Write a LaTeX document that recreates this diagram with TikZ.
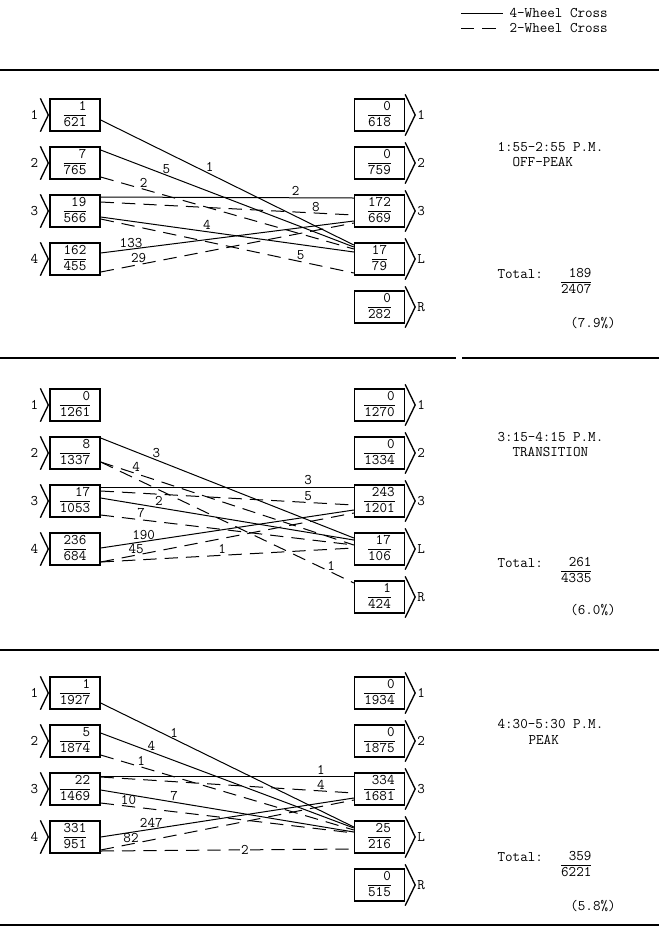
\documentclass[tikz,border=0pt]{standalone}
\usepackage{tikz}
\usetikzlibrary{calc}
\newcommand{\tfont}{\fontsize{11}{13}\selectfont\ttfamily}
\newcommand{\cnt}[2]{\renewcommand{\arraystretch}{0.9}%
  \begin{tabular}{@{}r@{}}#1\\\hline #2\end{tabular}}

\begin{document}
\begin{tikzpicture}[x=0.75pt, y=-0.75pt,
    every node/.style={font=\tfont, inner sep=1pt},
    abox/.style={draw, line width=1pt, minimum width=37.5pt,
                 minimum height=24pt, inner sep=0pt},
    chev/.style={line width=1pt},
    fourw/.style={line width=0.75pt},
    twow/.style={line width=0.75pt, dash pattern=on 10pt off 6pt},
    num/.style={inner sep=1pt},
    sep/.style={line width=2pt}
  ]
  \useasboundingbox (0,0) rectangle (659,929);

  % legend
  \node[anchor=west] (leg4) at (508,13) {4-Wheel Cross};
  \node[anchor=west] (leg2) at (508,28) {2-Wheel Cross};
  \coordinate (l4s) at (461,13);
  \coordinate (l2s) at (461,28);
  \draw[fourw] (l4s) -- ($(leg4.west)+(-5,0)$);
  \draw[twow]  (l2s) -- ($(leg2.west)+(-8,0)$);

  % separating rules
  \draw[sep] (0,70) -- (659,70);
  \draw[sep] (0,358) -- (456,358);
  \draw[sep] (462,358) -- (659,358);
  \draw[sep] (0,650) -- (659,650);
  \draw[sep] (0,925) -- (659,925);

  % approach boxes
  \foreach \p/\yc/\lst in {1/115/{1/1/621,2/7/765,3/19/566,4/162/455},
                           2/405/{1/0/1261,2/8/1337,3/17/1053,4/236/684},
                           3/693/{1/1/1927,2/5/1874,3/22/1469,4/331/951}} {
    \foreach \i/\n/\d [count=\k from 0] in \lst {
      \node[abox] (a\p\i) at (75,{\yc+48*\k}) {\cnt{\n}{\d}};
      \draw[chev] ($(a\p\i.north west)+(-9,0)$) -- ($(a\p\i.west)+(-1,0)$)
                  -- ($(a\p\i.south west)+(-9,0)$);
      \node (na\p\i) at ($(a\p\i.west)+(-15,0)$) {\i};
    }
  }

  % exit boxes
  \foreach \p/\yc/\lst in {1/115/{1/0/618,2/0/759,3/172/669,L/17/79,R/0/282},
                           2/405/{1/0/1270,2/0/1334,3/243/1201,L/17/106,R/1/424},
                           3/693/{1/0/1934,2/0/1875,3/334/1681,L/25/216,R/0/515}} {
    \foreach \i/\n/\d [count=\k from 0] in \lst {
      \node[abox] (b\p\i) at (379.5,{\yc+48*\k}) {\cnt{\n}{\d}};
      \draw[chev] ($(b\p\i.north east)+(0,-4)$) -- ($(b\p\i.east)+(10,0)$)
                  -- ($(b\p\i.south east)+(0,4)$);
      \node (nb\p\i) at ($(b\p\i.east)+(16,0)$) {\i};
    }
  }

  % 1:55-2:55 off-peak
  \draw[fourw] ($(a11.east)+(0,5)$)   -- node[num, above, pos=.43] {1}   ($(b1L.west)+(0,-14)$);
  \draw[fourw] ($(a12.east)+(0,-13)$) -- node[num, above, pos=.26] {5}   ($(b1L.west)+(0,-12)$);
  \draw[twow]  ($(a12.east)+(0,14)$)  -- node[num, above, pos=.17] {2}   ($(b1L.west)+(0,-10)$);
  \draw[fourw] ($(a13.east)+(0,-14)$) -- node[num, above, pos=.77] {2}   ($(b13.west)+(0,-13)$);
  \draw[twow]  ($(a13.east)+(0,-9)$)  -- node[num, above, pos=.85] {8}   ($(b13.west)+(0,4)$);
  \draw[fourw] ($(a13.east)+(0,6)$)   -- node[num, above, pos=.42] {4}   ($(b1L.west)+(0,-7)$);
  \draw[twow]  ($(a13.east)+(0,8)$)   -- node[num, above, pos=.79] {5}   ($(b1L.west)+(0,14)$);
  \draw[fourw] ($(a14.east)+(0,-6)$)  -- node[num, above, pos=.12] {133} ($(b13.west)+(0,10)$);
  \draw[twow]  ($(a14.east)+(0,13)$)  -- node[num, above, pos=.15] {29}  ($(b13.west)+(0,12)$);

  % 3:15-4:15 transition
  \draw[fourw] ($(a22.east)+(0,-15)$) -- node[num, above, pos=.22] {3}   ($(b2L.west)+(0,-11)$);
  \draw[twow]  ($(a22.east)+(0,9)$)   -- node[num, above, pos=.14] {4}   ($(b2L.west)+(0,-4)$);
  \draw[twow]  ($(a22.east)+(0,9)$)   -- node[num, above, pos=.91] {1}   ($(b2R.west)+(0,-14)$);
  \draw[fourw] ($(a23.east)+(0,-14)$) -- node[num, above, pos=.82] {3}   ($(b23.west)+(0,-14)$);
  \draw[twow]  ($(a23.east)+(0,-10)$) -- node[num, above, pos=.82] {5}   ($(b23.west)+(0,4)$);
  \draw[fourw] ($(a23.east)+(0,-3)$)  -- node[num, above, pos=.23] {2}   ($(b2L.west)+(0,-9)$);
  \draw[twow]  ($(a23.east)+(0,14)$)  -- node[num, above, pos=.16] {7}   ($(b2L.west)+(0,-4)$);
  \draw[fourw] ($(a24.east)+(0,-1)$)  -- node[num, above, pos=.17] {190} ($(b23.west)+(0,9)$);
  \draw[twow]  ($(a24.east)+(0,13)$)  -- node[num, above, pos=.14] {45}  ($(b23.west)+(0,12)$);
  \draw[twow]  ($(a24.east)+(0,13)$)  -- node[num, above, pos=.48] {1}   ($(b2L.west)+(0,-1)$);

  % 4:30-5:30 peak
  \draw[fourw] ($(a31.east)+(0,10)$)  -- node[num, above, pos=.29] {1}   ($(b3L.west)+(0,-10)$);
  \draw[fourw] ($(a32.east)+(0,-8)$)  -- node[num, above, pos=.20] {4}   ($(b3L.west)+(0,-9)$);
  \draw[twow]  ($(a32.east)+(0,14)$)  -- node[num, above, pos=.16] {1}   ($(b3L.west)+(0,-7)$);
  \draw[fourw] ($(a33.east)+(0,-13)$) -- node[num, above, pos=.87] {1}   ($(b33.west)+(0,-13)$);
  \draw[twow]  ($(a33.east)+(0,-12)$) -- node[num, above, pos=.87] {4}   ($(b33.west)+(0,4)$);
  \draw[fourw] ($(a33.east)+(0,1)$)   -- node[num, above, pos=.29] {7}   ($(b3L.west)+(0,-5)$);
  \draw[twow]  ($(a33.east)+(0,14)$)  -- node[num, above, pos=.11] {10}  ($(b3L.west)+(0,-4)$);
  \draw[fourw] ($(a34.east)+(0,0)$)   -- node[num, above, pos=.20] {247} ($(b33.west)+(0,9)$);
  \draw[twow]  ($(a34.east)+(0,13)$)  -- node[num, above, pos=.12] {82}  ($(b33.west)+(0,11)$);
  \draw[twow]  ($(a34.east)+(0,14)$)  -- node[num, fill=white, pos=.57] {2} ($(b3L.west)+(0,12)$);

  % period captions and totals
  \node[anchor=west] (tm1) at (496,147) {1:55-2:55 P.M.};
  \node[anchor=west] (ph1) at (511,162) {OFF-PEAK};
  \node[anchor=west] (tt1) at (496,274) {Total:};
  \node[anchor=east] (fr1) at (593,282) {\cnt{189}{2407}};
  \node (pc1) at (593,323) {(7.9\%)};

  \node[anchor=west] (tm2) at (496,437) {3:15-4:15 P.M.};
  \node[anchor=west] (ph2) at (511,452) {TRANSITION};
  \node[anchor=west] (tt2) at (496,563) {Total:};
  \node[anchor=east] (fr2) at (593,571) {\cnt{261}{4335}};
  \node (pc2) at (593,610) {(6.0\%)};

  \node[anchor=west] (tm3) at (496,724) {4:30-5:30 P.M.};
  \node[anchor=west] (ph3) at (527,740) {PEAK};
  \node[anchor=west] (tt3) at (496,857) {Total:};
  \node[anchor=east] (fr3) at (593,865) {\cnt{359}{6221}};
  \node (pc3) at (593,906) {(5.8\%)};
\end{tikzpicture}
\end{document}
